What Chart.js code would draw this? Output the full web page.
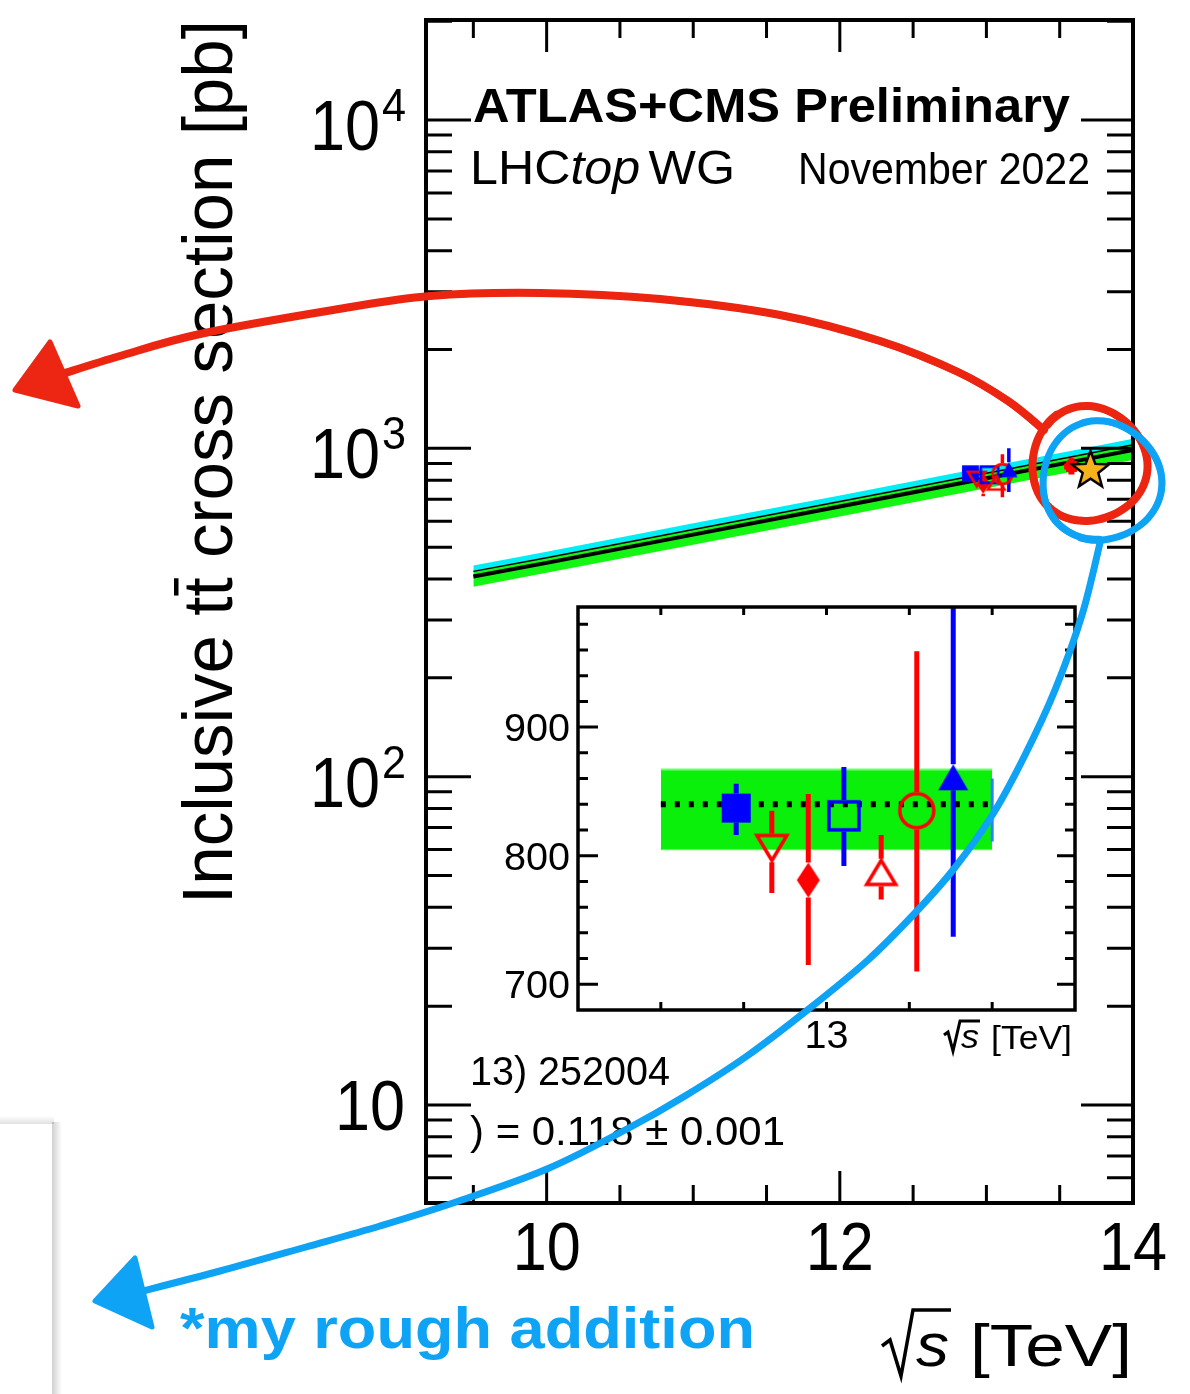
<!DOCTYPE html>
<html>
<head>
<meta charset="utf-8">
<title>Inclusive ttbar cross section</title>
<script src="https://cdn.jsdelivr.net/npm/chart.js@4.4.1/dist/chart.umd.min.js"></script>
<style>
  html, body { margin:0; padding:0; background:#fff; }
  #wrap { position:relative; width:1190px; height:1394px; overflow:hidden; background:#fff; }
  #wrap canvas { position:absolute; left:0; top:0; }
</style>
</head>
<body>
<div id="wrap">
  <canvas id="mainChart" width="1190" height="1394"></canvas>
  <canvas id="insetChart" width="1190" height="1394"></canvas>
</div>
<script>
const FONT = '"Liberation Sans", Arial, Helvetica, sans-serif';

// ---------------- data ----------------
// theory curve, main panel
const curveX          = [9.5, 10, 11, 12, 13, 13.6, 14];
const curveCentral    = [407, 448, 546, 665, 811, 913, 989];
const curveCyanUpper  = [440, 484, 591, 719, 877, 987, 1069];
const curveGreenUpper = [422, 464, 566, 689, 840, 946, 1025];
const curveGreenLower = [379, 418, 509, 620, 756, 851, 922];

// 13 TeV measurements (same points in main panel and inset)
const measX    = [12.891, 12.934, 12.978, 13.021, 13.066, 13.109, 13.153];
const measY    = [837, 806, 781, 831, 787, 835, 861];
const measHigh = [856, 835, 848, 869, 816, 959, 1000];
const measLow  = [816, 771, 715, 792, 766, 710, 737];

// 13.6 TeV measurement and prediction star
const run3X = [13.58];
const run3Y = [881];
const run3High = [935];
const run3Low = [832];
const run3XErr = [0.05];
const starX = [13.71];
const starY = [869];

// inset prediction band at 13 TeV
const bandX = [12.8, 13.2];
const bandCentral = [840, 840];
const bandHigh = [867, 867];
const bandLow = [805, 805];
const bandEdgeX = [13.2];
const bandEdgeHigh = [860];
const bandEdgeLow = [811];

// ticks and tick labels
const mainXTicks = [9.5, 10, 10.5, 11, 11.5, 12, 12.5, 13, 13.5, 14];
const mainXMajor = [10, 12, 14];
const mainXLabelValues = [10, 12, 14];
const mainXLabels = ['10', '12', '14'];
const mainYLabelValues = [10000, 1000, 100, 10];
const mainYLabelBase = ['10', '10', '10', '10'];
const mainYLabelExp = ['4', '3', '2', ''];
const insetXTicks = [12.8, 12.9, 13.0, 13.1, 13.2];
const insetXLabelValues = [13.0];
const insetXLabels = ['13'];
const insetYTicks = [700, 720, 740, 760, 780, 800, 820, 840, 860, 880, 900, 920, 940, 960, 980];
const insetYMajor = [700, 800, 900];
const insetYLabelValues = [900, 800, 700];
const insetYLabels = ['900', '800', '700'];

// ---------------- styles ----------------
const RED = '#ff0000', BLUE = '#0000ff';
const measStyles = [
  {shape:'rect',    color:BLUE, fill:true,  w:29, h:29},
  {shape:'triDown', color:RED,  fill:false, w:30, h:25},
  {shape:'diamond', color:RED,  fill:true,  w:23, h:35},
  {shape:'rect',    color:BLUE, fill:false, w:30, h:28},
  {shape:'triUp',   color:RED,  fill:false, w:29, h:24},
  {shape:'circle',  color:RED,  fill:false, w:34, h:34},
  {shape:'triUp',   color:BLUE, fill:true,  w:30, h:26}
];
const run3Style = {shape:'rect', color:RED, fill:true, w:11, h:11};
const MAIN_K = 0.58, INSET_LW = 3.5, MAIN_LW = 2.6;

function makeMarker(shape, color, filled, w, h, lw, strokeColor) {
  const pad = Math.ceil(lw) + 2;
  const cw = Math.ceil(w) + 2 * pad, chh = Math.ceil(h) + 2 * pad;
  const c = document.createElement('canvas');
  c.width = cw; c.height = chh;
  const g = c.getContext('2d');
  const cx = cw / 2, cy = chh / 2;
  g.beginPath();
  if (shape === 'rect') g.rect(cx - w / 2, cy - h / 2, w, h);
  else if (shape === 'circle') g.ellipse(cx, cy, w / 2, h / 2, 0, 0, Math.PI * 2);
  else if (shape === 'triUp') { g.moveTo(cx, cy - h / 2); g.lineTo(cx + w / 2, cy + h / 2); g.lineTo(cx - w / 2, cy + h / 2); g.closePath(); }
  else if (shape === 'triDown') { g.moveTo(cx, cy + h / 2); g.lineTo(cx + w / 2, cy - h / 2); g.lineTo(cx - w / 2, cy - h / 2); g.closePath(); }
  else if (shape === 'diamond') { g.moveTo(cx, cy - h / 2); g.lineTo(cx + w / 2, cy); g.lineTo(cx, cy + h / 2); g.lineTo(cx - w / 2, cy); g.closePath(); }
  else if (shape === 'star') {
    for (let i = 0; i < 10; i++) {
      const r = i % 2 === 0 ? w / 2 : w / 2 * 0.42;
      const a = -Math.PI / 2 + i * Math.PI / 5;
      const px = cx + r * Math.cos(a), py = cy + 2 + r * Math.sin(a);
      if (i) g.lineTo(px, py); else g.moveTo(px, py);
    }
    g.closePath();
  }
  if (filled) { g.fillStyle = color; g.fill(); }
  if (lw > 0) { g.lineWidth = lw; g.strokeStyle = strokeColor || color; g.lineJoin = 'miter'; g.stroke(); }
  return c;
}

function pts(xs, ys) { return xs.map((v, i) => ({x: v, y: ys[i]})); }

function fitText(ctx, text, x, y, font, targetW, align) {
  ctx.save();
  ctx.font = font;
  const w = ctx.measureText(text).width;
  const tw = targetW || w;
  const k = tw / w;
  let x0 = x;
  if (align === 'center') x0 = x - tw / 2;
  else if (align === 'right') x0 = x - tw;
  ctx.translate(x0, y);
  ctx.scale(k, 1);
  ctx.textAlign = 'left';
  ctx.textBaseline = 'alphabetic';
  ctx.fillText(text, 0, 0);
  ctx.restore();
}

function drawErrs(chart, xs, ys, his, los, styles, k, lwOpen, barW) {
  const {ctx, chartArea: a, scales: {x, y}} = chart;
  ctx.save();
  ctx.beginPath(); ctx.rect(a.left, a.top, a.right - a.left, a.bottom - a.top); ctx.clip();
  ctx.lineWidth = barW; ctx.lineCap = 'butt';
  xs.forEach((xv, i) => {
    const st = styles[i];
    const px = x.getPixelForValue(xv), py = y.getPixelForValue(ys[i]);
    const half = st.h * k / 2 + (st.fill ? 0 : lwOpen / 2);
    const ph = y.getPixelForValue(his[i]), pl = y.getPixelForValue(los[i]);
    ctx.strokeStyle = st.color;
    ctx.beginPath();
    if (ph < py - half) { ctx.moveTo(px, ph); ctx.lineTo(px, py - half); }
    if (pl > py + half) { ctx.moveTo(px, py + half); ctx.lineTo(px, pl); }
    ctx.stroke();
  });
  ctx.restore();
}

// ---------------- main chart ----------------
const mainDatasets = [
  {data: pts(curveX, curveGreenLower), borderWidth: 0, borderColor: 'rgba(0,0,0,0)', pointRadius: 0, fill: false, order: 30},
  {data: pts(curveX, curveGreenUpper), borderWidth: 0, borderColor: 'rgba(0,0,0,0)', pointRadius: 0, fill: '-1', backgroundColor: 'rgb(20,245,20)', order: 29},
  {data: pts(curveX, curveCyanUpper), borderWidth: 0, borderColor: 'rgba(0,0,0,0)', pointRadius: 0, fill: '-1', backgroundColor: 'rgb(0,238,245)', order: 28},
  {data: pts(curveX, curveGreenUpper), borderWidth: 1.5, borderColor: '#000', pointRadius: 0, fill: false, order: 21},
  {data: pts(curveX, curveCentral), borderWidth: 4, borderColor: '#000', pointRadius: 0, fill: false, order: 20, errAfter: true}
];
measX.forEach((xv, i) => {
  const st = measStyles[i];
  mainDatasets.push({
    data: [{x: xv, y: measY[i]}], showLine: false, order: 10 - i,
    pointStyle: makeMarker(st.shape, st.color, st.fill, st.w * MAIN_K, st.h * MAIN_K, st.fill ? 0 : MAIN_LW),
    pointRadius: 8
  });
});
mainDatasets.push({
  data: pts(run3X, run3Y), showLine: false, order: 2,
  pointStyle: makeMarker(run3Style.shape, run3Style.color, true, run3Style.w, run3Style.h, 0), pointRadius: 6
});
mainDatasets.push({
  data: pts(starX, starY), showLine: false, order: 1,
  pointStyle: makeMarker('star', 'rgb(246,178,28)', true, 39, 39, 2.5, '#000'), pointRadius: 18
});

const mainDecor = {
  id: 'mainDecor',
  afterDatasetDraw(chart, args) {
    if (!chart.data.datasets[args.index].errAfter) return;
    drawErrs(chart, measX, measY, measHigh, measLow, measStyles, MAIN_K, MAIN_LW, 3.5);
    const {ctx, scales: {x, y}} = chart;
    ctx.save();
    ctx.strokeStyle = RED; ctx.lineWidth = 6;
    run3X.forEach((xv, i) => {
      const px = x.getPixelForValue(xv), py = y.getPixelForValue(run3Y[i]);
      ctx.beginPath();
      ctx.moveTo(px, y.getPixelForValue(run3High[i])); ctx.lineTo(px, y.getPixelForValue(run3Low[i]));
      ctx.moveTo(x.getPixelForValue(xv - run3XErr[i]), py); ctx.lineTo(x.getPixelForValue(xv + run3XErr[i]), py);
      ctx.stroke();
    });
    ctx.restore();
  },
  afterDatasetsDraw(chart) {
    const {ctx, chartArea: a, scales: {x, y}} = chart;
    ctx.save();
    ctx.strokeStyle = '#000'; ctx.lineWidth = 3; ctx.lineCap = 'butt';
    ctx.beginPath();
    mainXTicks.forEach(v => {
      const px = x.getPixelForValue(v);
      const len = mainXMajor.includes(v) ? 32 : 18;
      ctx.moveTo(px, a.bottom); ctx.lineTo(px, a.bottom - len);
      ctx.moveTo(px, a.top); ctx.lineTo(px, a.top + len);
    });
    for (let d = 1; d <= 10000; d *= 10) {
      for (let m = 1; m <= 9; m++) {
        const v = m * d;
        if (v < y.min || v > y.max) continue;
        const py = y.getPixelForValue(v);
        const major = m === 1;
        ctx.moveTo(a.left, py); ctx.lineTo(a.left + (major ? 45 : 26), py);
        ctx.moveTo(a.right, py); ctx.lineTo(a.right - (major ? 52 : 26), py);
      }
    }
    ctx.stroke();
    ctx.lineWidth = 4;
    ctx.strokeRect(a.left, a.top, a.right - a.left, a.bottom - a.top);
    ctx.restore();
  },
  afterDraw(chart) {
    const {ctx, scales: {x, y}} = chart;
    ctx.save();
    ctx.fillStyle = '#000'; ctx.strokeStyle = '#000';
    // y tick labels
    mainYLabelValues.forEach((v, i) => {
      const py = y.getPixelForValue(v);
      if (mainYLabelExp[i]) {
        fitText(ctx, mainYLabelBase[i], 380, py + 30, '70px ' + FONT, 70, 'right');
        fitText(ctx, mainYLabelExp[i], 382, py + 1, '46px ' + FONT, 24, 'left');
      } else {
        fitText(ctx, mainYLabelBase[i], 405, py + 25, '70px ' + FONT, 70, 'right');
      }
    });
    // x tick labels
    mainXLabelValues.forEach((v, i) => {
      fitText(ctx, mainXLabels[i], x.getPixelForValue(v), 1270, '68px ' + FONT, 68, 'center');
    });
    // x title  sqrt(s) [TeV]
    ctx.lineWidth = 3.5; ctx.lineJoin = 'miter';
    ctx.beginPath();
    ctx.moveTo(882, 1346); ctx.lineTo(890, 1340); ctx.lineTo(901, 1376); ctx.lineTo(913, 1310); ctx.lineTo(951, 1310);
    ctx.stroke();
    fitText(ctx, 's', 916, 1366, 'italic 62px ' + FONT, 33, 'left');
    fitText(ctx, '[TeV]', 970, 1366, '60px ' + FONT, 162, 'left');
    // y title
    ctx.save();
    ctx.translate(232, 904);
    ctx.rotate(-Math.PI / 2);
    ctx.font = '71px ' + FONT;
    const p1 = 'Inclusive t', p2 = 't', p3 = ' cross section [pb]';
    const w1 = ctx.measureText(p1).width, w2 = ctx.measureText(p2).width, w3 = ctx.measureText(p3).width;
    const k = 884 / (w1 + w2 + w3);
    ctx.scale(k, 1);
    ctx.textAlign = 'left'; ctx.textBaseline = 'alphabetic';
    ctx.fillText(p1, 0, 0); ctx.fillText(p2, w1, 0); ctx.fillText(p3, w1 + w2, 0);
    ctx.fillRect(w1 + 1, -58, w2 - 2, 4.5);
    ctx.restore();
    // headers
    fitText(ctx, 'ATLAS+CMS Preliminary', 473, 122, 'bold 48px ' + FONT, 597, 'left');
    ctx.save();
    ctx.font = '48px ' + FONT;
    const wl = ctx.measureText('LHC').width;
    ctx.font = 'italic 48px ' + FONT;
    const wt = ctx.measureText('top').width;
    ctx.font = '48px ' + FONT;
    const ww = ctx.measureText('WG').width;
    const gap = 8;
    const kk = 265 / (wl + wt + gap + ww);
    ctx.translate(470, 184); ctx.scale(kk, 1);
    ctx.textAlign = 'left';
    ctx.fillText('LHC', 0, 0);
    ctx.font = 'italic 48px ' + FONT;
    ctx.fillText('top', wl, 0);
    ctx.font = '48px ' + FONT;
    ctx.fillText('WG', wl + wt + gap, 0);
    ctx.restore();
    fitText(ctx, 'November 2022', 798, 184, '45px ' + FONT, 292, 'left');
    // partially hidden legend text
    fitText(ctx, '13) 252004', 470, 1085, '40px ' + FONT, 200, 'left');
    fitText(ctx, ') = 0.118 \u00B1 0.001', 470, 1145, '40px ' + FONT, 315, 'left');
    // window edge shadow bottom-left
    const gv = ctx.createLinearGradient(50, 0, 62, 0);
    gv.addColorStop(0, 'rgba(0,0,0,0.22)'); gv.addColorStop(1, 'rgba(0,0,0,0)');
    ctx.fillStyle = gv; ctx.fillRect(52, 1122, 10, 272);
    const gh = ctx.createLinearGradient(0, 1124, 0, 1116);
    gh.addColorStop(0, 'rgba(0,0,0,0.12)'); gh.addColorStop(1, 'rgba(0,0,0,0)');
    ctx.fillStyle = gh; ctx.fillRect(0, 1116, 54, 8);
    ctx.restore();
  }
};

new Chart(document.getElementById('mainChart'), {
  type: 'line',
  data: {datasets: mainDatasets},
  options: {
    responsive: false, animation: false, devicePixelRatio: 1, events: [],
    layout: {padding: {left: 426, top: 20, right: 57, bottom: 191}},
    scales: {
      x: {type: 'linear', min: 9.177, max: 14.0, display: false},
      y: {type: 'logarithmic', min: 5.03, max: 20170, display: false}
    },
    plugins: {legend: {display: false}, tooltip: {enabled: false}, title: {display: false}}
  },
  plugins: [mainDecor]
});

// ---------------- inset chart ----------------
const insetDatasets = [
  {data: pts(bandX, bandLow), borderWidth: 2, borderColor: 'rgb(110,255,110)', pointRadius: 0, fill: false, order: 30},
  {data: pts(bandX, bandHigh), borderWidth: 2, borderColor: 'rgb(110,255,110)', pointRadius: 0, fill: '-1', backgroundColor: 'rgb(10,240,10)', order: 29},
  {data: pts(bandX, bandCentral), borderWidth: 6, borderColor: '#000', borderDash: [5, 9], pointRadius: 0, fill: false, order: 21},
  {data: [{x: bandEdgeX[0], y: bandEdgeLow[0]}, {x: bandEdgeX[0], y: bandEdgeHigh[0]}], borderWidth: 3, borderColor: 'rgb(40,130,255)', pointRadius: 0, fill: false, order: 20, errAfter: true}
];
measX.forEach((xv, i) => {
  const st = measStyles[i];
  insetDatasets.push({
    data: [{x: xv, y: measY[i]}], showLine: false, order: 10 - i,
    pointStyle: makeMarker(st.shape, st.color, st.fill, st.w, st.h, st.fill ? 0 : INSET_LW),
    pointRadius: 14
  });
});

function smoothPath(ctx, p) {
  ctx.moveTo(p[0][0], p[0][1]);
  for (let i = 0; i < p.length - 1; i++) {
    const p0 = p[Math.max(i - 1, 0)], p1 = p[i], p2 = p[i + 1], p3 = p[Math.min(i + 2, p.length - 1)];
    ctx.bezierCurveTo(p1[0] + (p2[0] - p0[0]) / 6, p1[1] + (p2[1] - p0[1]) / 6,
                      p2[0] - (p3[0] - p1[0]) / 6, p2[1] - (p3[1] - p1[1]) / 6, p2[0], p2[1]);
  }
}
function roughStroke(ctx, p, color, w) {
  const passes = [[0, 0, w, 1], [1.4, -1.1, w * 0.55, 0.9], [-1.2, 1.3, w * 0.5, 0.9]];
  passes.forEach(([dx, dy, lw, al]) => {
    ctx.save();
    ctx.translate(dx, dy);
    ctx.globalAlpha = al;
    ctx.beginPath(); smoothPath(ctx, p);
    ctx.lineWidth = lw; ctx.strokeStyle = color; ctx.lineCap = 'round'; ctx.lineJoin = 'round';
    ctx.stroke();
    ctx.restore();
  });
}
function roughCircle(ctx, cx, cy, r, color, w, a0, turns) {
  const p = [];
  const n = 48;
  for (let i = 0; i <= n; i++) {
    const t = a0 + (i / n) * turns * Math.PI * 2;
    const rr = r * (1 + 0.025 * Math.sin(3 * t + 1) + 0.015 * (i / n));
    p.push([cx + rr * Math.cos(t), cy + rr * Math.sin(t)]);
  }
  roughStroke(ctx, p, color, w);
}
function arrowHead(ctx, tri, color) {
  ctx.save();
  ctx.fillStyle = color; ctx.strokeStyle = color; ctx.lineWidth = 5; ctx.lineJoin = 'round';
  ctx.beginPath(); ctx.moveTo(tri[0][0], tri[0][1]); ctx.lineTo(tri[1][0], tri[1][1]); ctx.lineTo(tri[2][0], tri[2][1]); ctx.closePath();
  ctx.fill(); ctx.stroke();
  ctx.restore();
}

const HAND_RED = 'rgb(236,38,18)', HAND_BLUE = 'rgb(14,163,244)';
const redArrowPath = [[1044,430],[1008,401],[958,372],[880,341],[780,315],[660,299],[540,293],[430,296],[333,310],[200,334],[120,356],[62,374]];
const redArrowHead = [[15,390],[50,342],[78,406]];
const blueArrowPath = [[1100,543],[1082,615],[1055,690],[1025,755],[993,814],[953,870],[915,913],[868,960],[810,1008],[747,1056],[685,1096],[627,1129],[547,1169],[453,1203],[380,1226],[306,1247],[220,1271],[135,1293]];
const blueArrowHead = [[95,1301],[135,1258],[152,1327]];

const insetDecor = {
  id: 'insetDecor',
  beforeDraw(chart) {
    const {ctx, chartArea: a} = chart;
    ctx.save(); ctx.fillStyle = '#fff';
    ctx.fillRect(a.left, a.top, a.right - a.left, a.bottom - a.top);
    ctx.restore();
  },
  afterDatasetDraw(chart, args) {
    if (!chart.data.datasets[args.index].errAfter) return;
    drawErrs(chart, measX, measY, measHigh, measLow, measStyles, 1, INSET_LW, 5);
  },
  afterDatasetsDraw(chart) {
    const {ctx, chartArea: a, scales: {x, y}} = chart;
    ctx.save();
    ctx.strokeStyle = '#000'; ctx.lineWidth = 3; ctx.lineCap = 'butt';
    ctx.beginPath();
    insetXTicks.forEach(v => {
      const px = x.getPixelForValue(v);
      ctx.moveTo(px, a.bottom); ctx.lineTo(px, a.bottom - 8);
      ctx.moveTo(px, a.top); ctx.lineTo(px, a.top + 8);
    });
    insetYTicks.forEach(v => {
      const py = y.getPixelForValue(v);
      const major = insetYMajor.includes(v);
      ctx.moveTo(a.left, py); ctx.lineTo(a.left + (major ? 20 : 10), py);
      ctx.moveTo(a.right, py); ctx.lineTo(a.right - (major ? 18 : 10), py);
    });
    ctx.stroke();
    ctx.lineWidth = 3.5;
    ctx.strokeRect(a.left, a.top, a.right - a.left, a.bottom - a.top);
    ctx.restore();
  },
  afterDraw(chart) {
    const {ctx, scales: {x, y}} = chart;
    ctx.save();
    ctx.fillStyle = '#000'; ctx.strokeStyle = '#000';
    insetYLabelValues.forEach((v, i) => {
      fitText(ctx, insetYLabels[i], 570, y.getPixelForValue(v) + 14, '39px ' + FONT, 66, 'right');
    });
    insetXLabelValues.forEach((v, i) => {
      fitText(ctx, insetXLabels[i], x.getPixelForValue(v), 1048, '38px ' + FONT, 44, 'center');
    });
    ctx.lineWidth = 3;
    ctx.beginPath();
    ctx.moveTo(944, 1035); ctx.lineTo(948, 1032); ctx.lineTo(953, 1051); ctx.lineTo(960, 1021); ctx.lineTo(980, 1021);
    ctx.stroke();
    fitText(ctx, 's', 961, 1048, 'italic 34px ' + FONT, 18, 'left');
    fitText(ctx, '[TeV]', 991, 1049, '34px ' + FONT, 81, 'left');

    // hand-drawn annotations
    roughStroke(ctx, redArrowPath, HAND_RED, 8);
    arrowHead(ctx, redArrowHead, HAND_RED);
    roughCircle(ctx, 1089, 464, 57, HAND_RED, 8, -2.4, 1.04);
    roughCircle(ctx, 1101, 481, 59, HAND_BLUE, 7, 1.6, 1.05);
    roughStroke(ctx, blueArrowPath, HAND_BLUE, 7);
    arrowHead(ctx, blueArrowHead, HAND_BLUE);
    ctx.fillStyle = HAND_BLUE;
    fitText(ctx, '*my rough addition', 180, 1348, 'bold 58px ' + FONT, 575, 'left');
    ctx.restore();
  }
};

new Chart(document.getElementById('insetChart'), {
  type: 'line',
  data: {datasets: insetDatasets},
  options: {
    responsive: false, animation: false, devicePixelRatio: 1, events: [],
    layout: {padding: {left: 578, top: 607, right: 115, bottom: 384}},
    scales: {
      x: {type: 'linear', min: 12.7, max: 13.3, display: false},
      y: {type: 'linear', min: 680, max: 993.4, display: false}
    },
    plugins: {legend: {display: false}, tooltip: {enabled: false}, title: {display: false}}
  },
  plugins: [insetDecor]
});
</script>
</body>
</html>
